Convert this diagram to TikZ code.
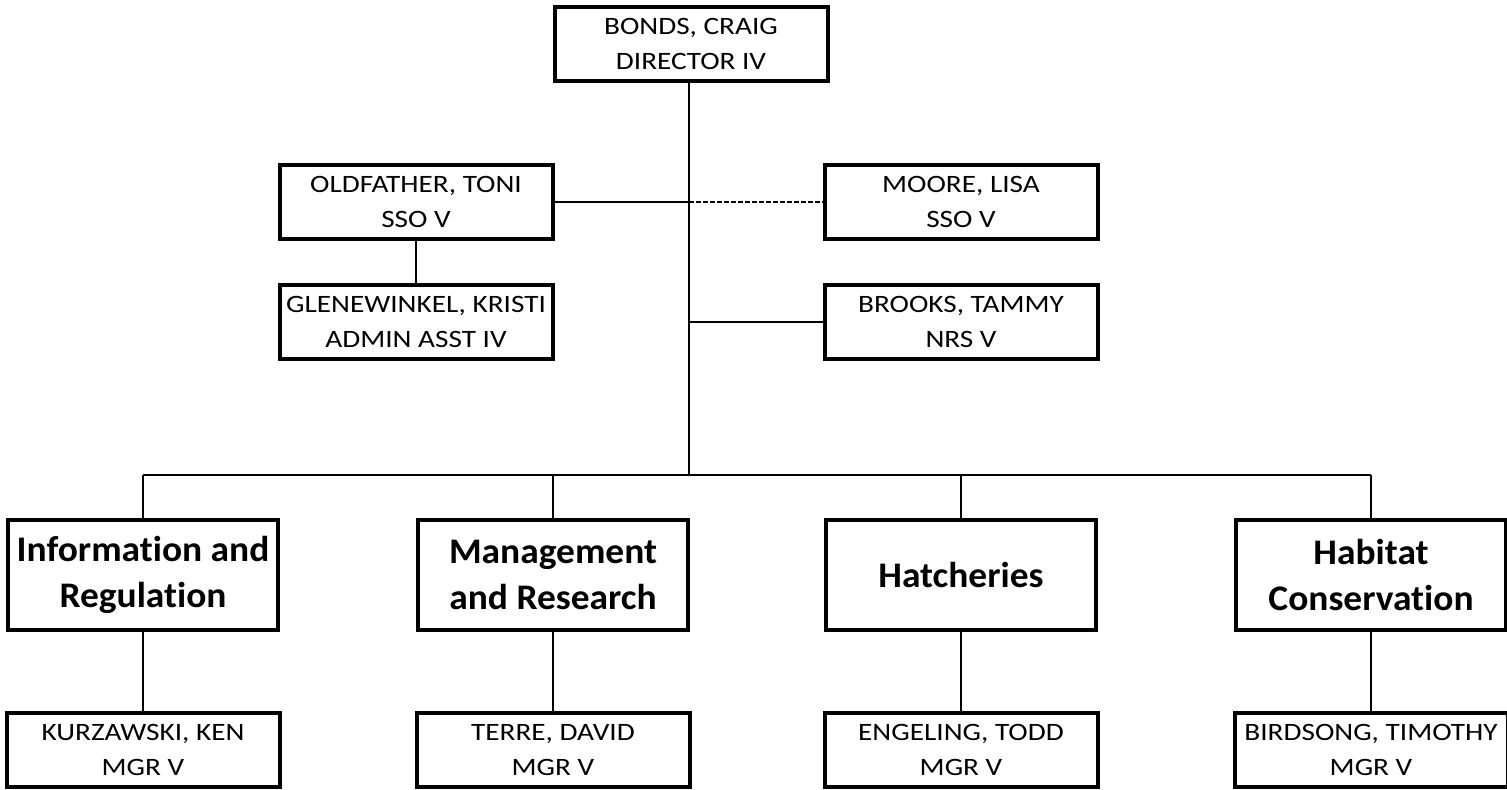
\documentclass[tikz,border=0pt]{standalone}
\usepackage{fontspec}
\setmainfont{Carlito}
\newfontfamily\namefont{Carlito}[FakeStretch=1.17,Ligatures=CommonOff]
\newfontfamily\deptfont{Carlito}[FakeStretch=1.04,Ligatures=CommonOff]
\usetikzlibrary{positioning}

\begin{document}
\begin{tikzpicture}[x=0.5pt,y=-0.5pt,
    person/.style={draw,line width=2pt,minimum width=136.5pt,minimum height=37pt,inner sep=0pt,align=center,font=\namefont\fontsize{12.5}{17.5}\selectfont},
    dept/.style={draw,line width=2pt,minimum width=135pt,minimum height=55pt,inner sep=0pt,align=center,font=\deptfont\fontsize{18}{23}\selectfont\bfseries},
    link/.style={line width=0.8pt}]
      \useasboundingbox (0,0) rectangle (1507,789);
      \node[person] (bonds) at (691,44) {BONDS, CRAIG\\DIRECTOR IV};
      \node[person] (oldfather) at (416,202) {OLDFATHER, TONI\\SSO V};
      \node[person] (moore) at (961,202) {MOORE, LISA\\SSO V};
      \node[person] (glenewinkel) at (416,322) {GLENEWINKEL, KRISTI\\ADMIN ASST IV};
      \node[person] (brooks) at (961,322) {BROOKS, TAMMY\\NRS V};
      \node[dept] (info) at (143,575) {Information and\\Regulation};
      \node[dept] (mgmt) at (553,575) {Management\\and Research};
      \node[dept] (hatch) at (961,575) {Hatcheries};
      \node[dept] (habitat) at (1371,575) {Habitat\\Conservation};
      \node[person] (kurzawski) at (143,750) {KURZAWSKI, KEN\\MGR V};
      \node[person] (terre) at (553,750) {TERRE, DAVID\\MGR V};
      \node[person] (engeling) at (961,750) {ENGELING, TODD\\MGR V};
      \node[person] (birdsong) at (1371,750) {BIRDSONG, TIMOTHY\\MGR V};
      \coordinate (hub) at (689,475);
      \draw[link] (bonds.south -| hub) -- (hub);
      \draw[link] (oldfather) -- (oldfather -| hub);
      \draw[link,dash pattern=on 2.5pt off 1pt] (moore -| hub) -- (moore);
      \draw[link] (oldfather) -- (glenewinkel);
      \draw[link] (brooks -| hub) -- (brooks);
      \draw[link] (info |- hub) -- (habitat |- hub);
      \foreach \d/\p in {info/kurzawski,mgmt/terre,hatch/engeling,habitat/birdsong} {
        \draw[link] (\d |- hub) -- (\d);
        \draw[link] (\d) -- (\p);
      }
    \end{tikzpicture}
\end{document}
